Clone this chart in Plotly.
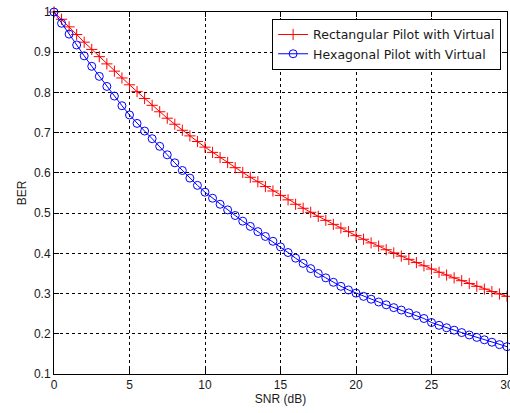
import plotly.graph_objects as go

snr = [i * 0.5 for i in range(61)]

ber_rect = [1.000, 0.982, 0.963, 0.944, 0.925, 0.907, 0.889, 0.871, 0.853, 0.836,
            0.819, 0.802, 0.785, 0.768, 0.752, 0.736, 0.721, 0.706, 0.692, 0.678,
            0.664, 0.651, 0.638, 0.626, 0.613, 0.601, 0.589, 0.578, 0.566, 0.555,
            0.544, 0.533, 0.522, 0.512, 0.502, 0.492, 0.482, 0.472, 0.463, 0.454,
            0.444, 0.435, 0.426, 0.418, 0.409, 0.401, 0.393, 0.385, 0.377, 0.369,
            0.361, 0.353, 0.346, 0.339, 0.332, 0.325, 0.318, 0.311, 0.305, 0.299,
            0.293]

ber_hex = [1.000, 0.972, 0.945, 0.918, 0.891, 0.865, 0.840, 0.815, 0.791, 0.767,
           0.744, 0.723, 0.704, 0.685, 0.666, 0.645, 0.625, 0.606, 0.587, 0.569,
           0.552, 0.537, 0.522, 0.508, 0.494, 0.480, 0.467, 0.454, 0.442, 0.430,
           0.416, 0.402, 0.388, 0.375, 0.362, 0.350, 0.339, 0.328, 0.318, 0.309,
           0.301, 0.293, 0.286, 0.279, 0.272, 0.265, 0.259, 0.252, 0.245, 0.238,
           0.228, 0.221, 0.215, 0.209, 0.203, 0.197, 0.191, 0.185, 0.179, 0.173,
           0.168]

x_ticks = [0, 5, 10, 15, 20, 25, 30]
y_ticks = [0.1, 0.2, 0.3, 0.4, 0.5, 0.6, 0.7, 0.8, 0.9, 1.0]
y_tick_text = ["0.1", "0.2", "0.3", "0.4", "0.5", "0.6", "0.7", "0.8", "0.9", "1"]

FONT = "Liberation Sans, Arial"
LFONT = "DejaVu Sans"
TXT = "#1a1a1a"

fig = go.Figure()
fig.add_trace(go.Scatter(
    x=snr, y=ber_rect, mode="lines+markers", name="Rectangular Pilot with Virtual",
    line=dict(color="#ff0000", width=1),
    marker=dict(symbol="cross-thin-open", size=8, color="#ff0000",
                line=dict(color="#ff0000", width=1)),
    cliponaxis=False,
))
fig.add_trace(go.Scatter(
    x=snr, y=ber_hex, mode="lines+markers", name="Hexagonal Pilot with Virtual",
    line=dict(color="#0000ff", width=1),
    marker=dict(symbol="circle-open", size=8, color="#0000ff",
                line=dict(color="#0000ff", width=1)),
    cliponaxis=False,
))

axis_common = dict(
    showline=True, linecolor="black", linewidth=1, mirror="ticks",
    ticks="inside", ticklen=5, tickcolor="black",
    showgrid=True, gridcolor="black", gridwidth=1, griddash="3px,3px",
    zeroline=False, automargin=False, ticklabeloverflow="allow",
    tickfont=dict(family=FONT, size=12, color=TXT),
)

fig.update_xaxes(range=[0, 30], tickvals=x_ticks, **axis_common,
                 title=dict(text="SNR (dB)", standoff=2,
                            font=dict(family=FONT, size=12, color=TXT)))
fig.update_yaxes(range=[0.1, 1.0], tickvals=y_ticks, ticktext=y_tick_text, **axis_common,
                 title=dict(text="BER", standoff=4,
                            font=dict(family=FONT, size=12, color=TXT)))

fig.update_layout(
    width=510, height=413,
    margin=dict(l=54, r=3, t=12, b=39),
    paper_bgcolor="white", plot_bgcolor="white",
    font=dict(family=FONT, size=12, color=TXT),
    legend=dict(x=0.987, y=0.981, xanchor="right", yanchor="top",
                bgcolor="white", bordercolor="black", borderwidth=1,
                font=dict(family=LFONT, size=12.5, color=TXT),
                tracegroupgap=0),
    showlegend=True,
)

fig.write_html("out.html",
               config={"displayModeBar": False},
               post_script="document.body.style.margin='0';document.body.style.overflow='hidden';")
